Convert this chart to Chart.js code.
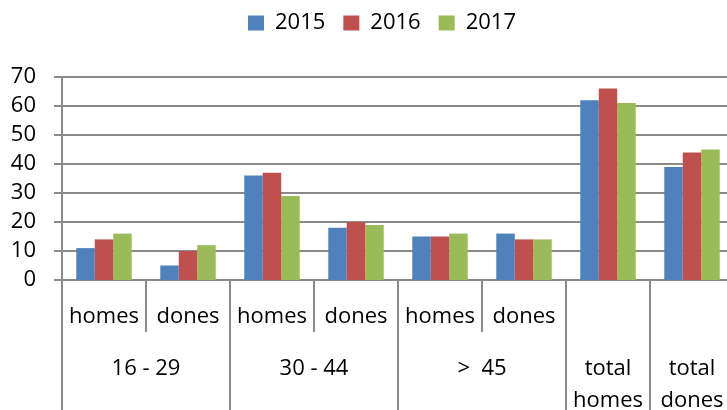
<!DOCTYPE html>
<html>
<head>
<meta charset="utf-8">
<script src="https://cdn.jsdelivr.net/npm/chart.js@4"></script>
<style>
  html, body { margin: 0; padding: 0; background: #fff; overflow: hidden; }
  #wrap { width: 764px; height: 410px; }
</style>
</head>
<body>
<div id="wrap"><canvas id="ageChart"></canvas></div>
<script>
var subLabels = ['homes', 'dones', 'homes', 'dones', 'homes', 'dones', '', ''];
var groupLabels = [['16 - 29'], ['30 - 44'], ['>  45'], ['total', 'homes'], ['total', 'dones']];
var groupSpans = [2, 2, 2, 1, 1];
var years = ['2015', '2016', '2017'];
var values2015 = [11, 5, 36, 18, 15, 16, 62, 39];
var values2016 = [14, 10, 37, 20, 15, 14, 66, 44];
var values2017 = [16, 12, 29, 19, 16, 14, 61, 45];
var yMax = 70, yStep = 10;

var gridColor = '#8a8a8a';
var fontFamily = '"Open Sans"';
Chart.defaults.font.family = fontFamily;
Chart.defaults.color = '#000';

// draws the separators below the axis and the group labels
var groupAxis = {
    id: 'groupAxis',
    afterDraw: function (chart) {
        var x = chart.scales.x, ctx = chart.ctx, area = chart.chartArea;
        var edge = function (i) { return x.getPixelForValue(i - 0.5); };
        ctx.save();
        ctx.strokeStyle = gridColor;
        ctx.lineWidth = 2;
        ctx.fillStyle = '#000';
        ctx.font = '22px ' + fontFamily;
        ctx.textAlign = 'center';
        ctx.textBaseline = 'middle';
        var start = 0;
        groupSpans.forEach(function (span, g) {
            ctx.beginPath();
            ctx.moveTo(edge(start), area.bottom);
            ctx.lineTo(edge(start), chart.height);
            ctx.stroke();
            for (var k = 1; k < span; k++) {
                ctx.beginPath();
                ctx.moveTo(edge(start + k), area.bottom);
                ctx.lineTo(edge(start + k), area.bottom + 52);
                ctx.stroke();
            }
            var cx = (edge(start) + edge(start + span)) / 2;
            groupLabels[g].forEach(function (line, j) {
                ctx.fillText(line, cx, area.bottom + 89 + j * 32);
            });
            start += span;
        });
        ctx.beginPath();
        ctx.moveTo(edge(start), area.bottom);
        ctx.lineTo(edge(start), chart.height);
        ctx.stroke();
        ctx.restore();
    }
};

var data1 = {
    labels: subLabels,
    datasets: [
        { label: years[0], data: values2015, backgroundColor: '#4f81bd' },
        { label: years[1], data: values2016, backgroundColor: '#c0504d' },
        { label: years[2], data: values2017, backgroundColor: '#9bbb59' }
    ]
};

new Chart(document.getElementById('ageChart'), {
    type: 'bar',
    data: data1,
    plugins: [groupAxis],
    options: {
        responsive: true,
        maintainAspectRatio: false,
        animation: false,
        layout: { padding: { left: 0, right: 0, top: -6, bottom: 0 } },
        datasets: { bar: { barPercentage: 1, categoryPercentage: 0.66 } },
        plugins: {
            tooltip: { enabled: false },
            legend: {
                position: 'top',
                labels: { boxWidth: 16, boxHeight: 15, padding: 18, font: { size: 22 } }
            }
        },
        scales: {
            x: {
                grid: { display: false, drawTicks: false },
                border: { display: false },
                ticks: { padding: 24, font: { size: 22 }, maxRotation: 0, autoSkip: false },
                afterFit: function (s) { s.height = 130; }
            },
            spacer: {
                type: 'linear',
                position: 'top',
                grid: { display: false },
                ticks: { display: false },
                border: { display: false },
                afterFit: function (s) { s.height = 33; }
            },
            spacerRight: {
                type: 'linear',
                position: 'right',
                grid: { display: false },
                ticks: { display: false },
                border: { display: false },
                afterFit: function (s) { s.width = 30; }
            },
            y: {
                min: 0,
                max: yMax,
                ticks: { stepSize: yStep, autoSkip: false, padding: 18, font: { size: 22 } },
                grid: { color: gridColor, lineWidth: 2, tickLength: 8 },
                border: { display: true, color: gridColor, width: 2 },
                afterFit: function (s) { s.width = 62; }
            }
        }
    }
});
</script>
</body>
</html>
